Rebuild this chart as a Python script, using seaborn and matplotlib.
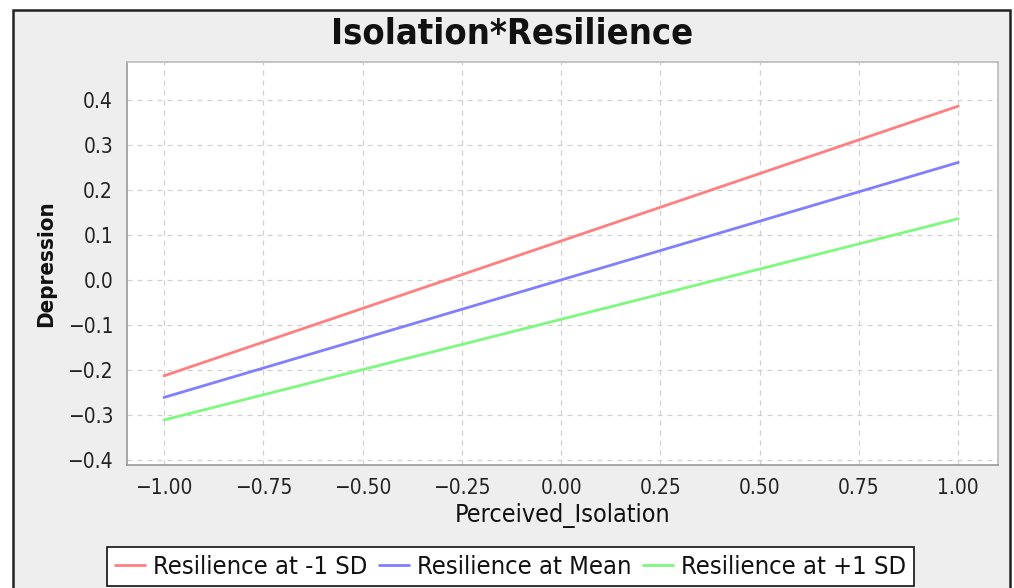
import numpy as np
import pandas as pd
import matplotlib
matplotlib.use("Agg")
import matplotlib.pyplot as plt
from matplotlib.patches import Rectangle
import seaborn as sns

# --- Data ---
x_vals = [-1.0, 1.0]
minus_sd = [-0.213, 0.386]
at_mean = [-0.261, 0.261]
plus_sd = [-0.311, 0.136]
series_names = ["Resilience at -1 SD", "Resilience at Mean", "Resilience at +1 SD"]
x_ticks = [-1.00, -0.75, -0.50, -0.25, 0.00, 0.25, 0.50, 0.75, 1.00]
y_ticks = [-0.4, -0.3, -0.2, -0.1, 0.0, 0.1, 0.2, 0.3, 0.4]

df = pd.DataFrame({
    "Perceived_Isolation": x_vals * 3,
    "Depression": minus_sd + at_mean + plus_sd,
    "Series": [n for n in series_names for _ in x_vals],
})

sns.set_style("white")
plt.rcParams["font.family"] = ["DejaVu Sans"]
plt.rcParams["font.stretch"] = "condensed"

W, H = 1014, 588
fig = plt.figure(figsize=(W / 100, H / 100), dpi=100, facecolor="white")

# grey chart panel with dark border
fig.patches.append(Rectangle((13 / W, -0.01), (1010 - 13) / W, (H - 10) / H + 0.01,
                             transform=fig.transFigure, facecolor="#EEEEEE",
                             edgecolor="#222222", linewidth=1.8, zorder=-5))

ax = fig.add_axes([127 / W, 1 - 465 / H, (998 - 127) / W, (465 - 62) / H])
ax.set_zorder(2)
ax.set_facecolor("white")

palette = {series_names[0]: "#FF7F7F", series_names[1]: "#7F7FFF", series_names[2]: "#7FF87F"}
sns.lineplot(data=df, x="Perceived_Isolation", y="Depression", hue="Series",
             palette=palette, linewidth=2, ax=ax, legend=False)

ax.set_xlim(-1.093, 1.10)
ax.set_ylim(-0.411, 0.484)
ax.set_xticks(x_ticks)
ax.set_xticklabels([f"{t:.2f}".replace("-", "\u2212") for t in x_ticks])
ax.set_yticks(y_ticks)
ax.set_yticklabels([f"{t:.1f}".replace("-", "\u2212") for t in y_ticks])
ax.grid(True, color="#D0D0D0", linestyle=(0, (4, 4)), linewidth=0.9)
ax.tick_params(axis="both", length=4, color="#777777", labelcolor="#222222", direction="out")
ax.tick_params(axis="x", labelsize=15, pad=5)
ax.tick_params(axis="y", labelsize=15, pad=6)
for side, sp in ax.spines.items():
    sp.set_color("#999999" if side in ("left", "bottom") else "#BBBBBB")
    sp.set_linewidth(1.2)

ax.set_xlabel("Perceived_Isolation", fontsize=18, color="#111111", labelpad=4)
ax.set_ylabel("Depression", fontsize=16, color="#111111", fontweight="bold", labelpad=8)
fig.text(512 / W, 1 - 33 / H, "Isolation*Resilience", ha="center", va="center",
         fontsize=26, fontweight="bold", color="#111111")

handles = [plt.Line2D([], [], color=palette[n], linewidth=2) for n in series_names]
leg = fig.legend(handles, series_names, loc="upper left",
                 bbox_to_anchor=(107 / W, 1 - 547 / H), ncol=3, fontsize=18.3,
                 frameon=True, fancybox=False, edgecolor="#111111", framealpha=1,
                 handlelength=1.2, handletextpad=0.3, columnspacing=0.45,
                 borderpad=0.3, borderaxespad=0, labelcolor="#111111")
leg.get_frame().set_linewidth(1.2)

fig.savefig("out.png", dpi=100, facecolor="white")
